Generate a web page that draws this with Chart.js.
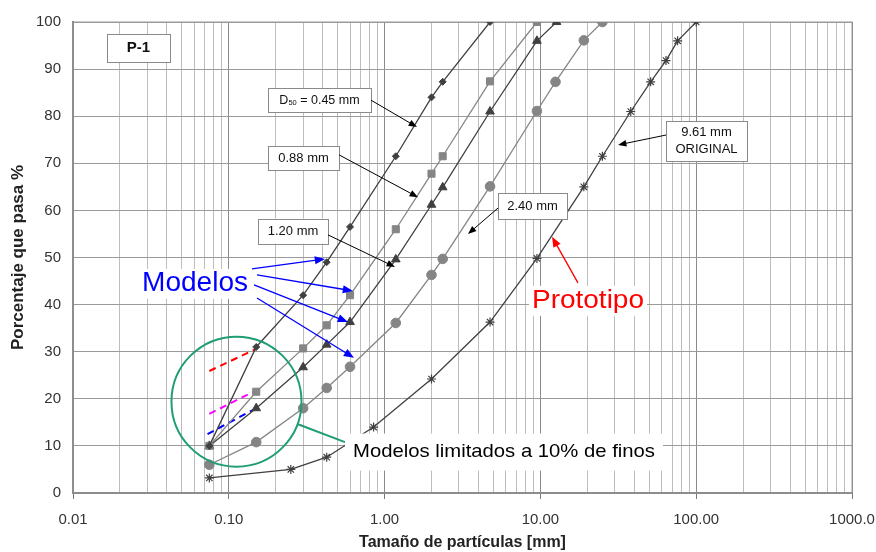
<!DOCTYPE html>
<html>
<head>
<meta charset="utf-8">
<script src="https://cdn.jsdelivr.net/npm/chart.js@4.4.1/dist/chart.umd.min.js"></script>
<style>
  html, body { margin: 0; padding: 0; background: #fff; }
  #wrap { width: 876px; height: 552px; }
</style>
</head>
<body>
<div id="wrap"><canvas id="granChart" width="876" height="552"></canvas></div>
<script>
// curvas granulometricas (x = tamano mm, y = % que pasa)
const d045X = [0.075, 0.15, 0.3, 0.425, 0.6, 1.18, 2.0, 2.36, 4.75];
const d045Y = [10, 31, 42, 49, 56.5, 71.5, 84, 87.3, 100];
const d088X = [0.075, 0.15, 0.3, 0.425, 0.6, 1.18, 2.0, 2.36, 4.75, 9.5];
const d088Y = [10, 21.5, 30.7, 35.6, 42, 56, 67.8, 71.5, 87.4, 100];
const d120X = [0.075, 0.15, 0.3, 0.425, 0.6, 1.18, 2.0, 2.36, 4.75, 9.5, 12.7];
const d120Y = [10, 18, 26.7, 31.5, 36.3, 49.6, 61.2, 64.9, 81, 96, 100];
const d240X = [0.075, 0.15, 0.3, 0.425, 0.6, 1.18, 2.0, 2.36, 4.75, 9.5, 12.5, 19, 25];
const d240Y = [6, 10.8, 18, 22.3, 26.8, 36.1, 46.3, 49.7, 65.1, 81.1, 87.3, 96.1, 100];
const origX = [0.075, 0.25, 0.425, 0.85, 2.0, 4.75, 9.5, 19, 25, 38, 51, 64, 76, 100];
const origY = [3.2, 5, 7.6, 14, 24.2, 36.3, 49.8, 65, 71.5, 81, 87.3, 91.8, 96, 100];

// tramos originales sin limitar finos (discontinuos)
const redDashX = [0.075, 0.15];
const redDashY = [25.9, 30.6];
const magDashX = [0.075, 0.15];
const magDashY = [16.8, 21.8];
const blueDashX = [0.073, 0.15];
const blueDashY = [12.5, 18];

const decadeLabels = ['0.01', '0.10', '1.00', '10.00', '100.00', '1000.0'];

function pts(xs, ys) {
  return xs.map((x, i) => ({ x: x, y: ys[i] }));
}

function isDecade(v) {
  const l = Math.log10(v);
  return Math.abs(l - Math.round(l)) < 1e-6;
}

const dark = '#404040';
const grey = '#858585';
const fam = 'px "Liberation Sans", Arial, sans-serif';

// anotaciones (coordenadas en unidades de datos)
const boxes = [
  { x: 0.0263, y: 94.5, w: 63, h: 28, lines: ['P-1'], bold: true, size: 15 },
  { x: 0.382, y: 83.4, w: 103, h: 24, lines: ['D50'], d50: true, size: 12.5 },
  { x: 0.3017, y: 71.1, w: 71, h: 24, lines: ['0.88 mm'], size: 13 },
  { x: 0.2583, y: 55.6, w: 70, h: 25, lines: ['1.20 mm'], size: 13 },
  { x: 116.4, y: 74.7, w: 81, h: 40, lines: ['9.61 mm', 'ORIGINAL'], size: 13 },
  { x: 8.9, y: 60.9, w: 69, h: 26, lines: ['2.40 mm'], size: 13 }
];
const blackArrows = [
  [0.818, 83.4, 1.614, 77.7],
  [0.5096, 71.8, 1.638, 62.8],
  [0.4333, 54.8, 1.166, 48.0],
  [64.0, 76.0, 31.5, 73.9],
  [5.345, 60.5, 3.43, 55.0]
];
const blueArrows = [
  [0.1409, 47.6, 0.4146, 49.7],
  [0.1517, 46.3, 0.6269, 42.9],
  [0.1451, 44.2, 0.582, 36.3],
  [0.1517, 41.4, 0.636, 28.7]
];

function arrow(ctx, x1, y1, x2, y2, color, width, head) {
  const a = Math.atan2(y2 - y1, x2 - x1);
  ctx.save();
  ctx.strokeStyle = color;
  ctx.fillStyle = color;
  ctx.lineWidth = width;
  ctx.beginPath();
  ctx.moveTo(x1, y1);
  ctx.lineTo(x2 - Math.cos(a) * head * 0.8, y2 - Math.sin(a) * head * 0.8);
  ctx.stroke();
  ctx.beginPath();
  ctx.moveTo(x2, y2);
  ctx.lineTo(x2 - head * Math.cos(a - 0.38), y2 - head * Math.sin(a - 0.38));
  ctx.lineTo(x2 - head * Math.cos(a + 0.38), y2 - head * Math.sin(a + 0.38));
  ctx.closePath();
  ctx.fill();
  ctx.restore();
}

// texto ensanchado para igualar el ancho del original
function wideText(ctx, text, cx, cy, size, width, color) {
  ctx.save();
  ctx.font = size + fam;
  const w = ctx.measureText(text).width;
  ctx.translate(cx, cy);
  ctx.scale(width / w, 1);
  ctx.fillStyle = color;
  ctx.textAlign = 'center';
  ctx.textBaseline = 'middle';
  ctx.fillText(text, 0, 0);
  ctx.restore();
}

const annotPlugin = {
  id: 'annot',
  beforeDatasetsDraw(chart) {
    const { ctx, chartArea: ca } = chart;
    ctx.save();
    ctx.strokeStyle = '#999';
    ctx.lineWidth = 1;
    ctx.strokeRect(ca.left, ca.top, ca.right - ca.left, ca.bottom - ca.top);
    ctx.restore();
  },
  afterDatasetsDraw(chart) {
    const { ctx } = chart;
    const sx = chart.scales.x, sy = chart.scales.y;
    const X = v => sx.getPixelForValue(v);
    const Y = v => sy.getPixelForValue(v);
    ctx.save();
    ctx.textBaseline = 'middle';
    ctx.textAlign = 'center';

    // cajas de texto
    boxes.forEach(b => {
      const cx = X(b.x), cy = Y(b.y);
      ctx.fillStyle = '#fff';
      ctx.fillRect(cx - b.w / 2, cy - b.h / 2, b.w, b.h);
      ctx.strokeStyle = '#8a8a8a';
      ctx.lineWidth = 1;
      ctx.strokeRect(Math.round(cx - b.w / 2) + 0.5, Math.round(cy - b.h / 2) + 0.5, b.w, b.h);
      ctx.fillStyle = '#111';
      if (b.d50) {
        const main = ' = 0.45 mm';
        ctx.font = b.size + fam;
        const wD = ctx.measureText('D').width;
        const wM = ctx.measureText(main).width;
        ctx.font = '7.5' + fam;
        const wS = ctx.measureText('50').width;
        const x0 = cx - (wD + wS + wM) / 2;
        ctx.textAlign = 'left';
        ctx.font = b.size + fam;
        ctx.fillText('D', x0, cy);
        ctx.font = '7.5' + fam;
        ctx.fillText('50', x0 + wD, cy + 3);
        ctx.font = b.size + fam;
        ctx.fillText(main, x0 + wD + wS, cy);
        ctx.textAlign = 'center';
      } else {
        ctx.font = (b.bold ? 'bold ' : '') + b.size + fam;
        const lh = b.size + 4;
        b.lines.forEach((t, i) => {
          ctx.fillText(t, cx, cy + (i - (b.lines.length - 1) / 2) * lh);
        });
      }
    });

    blackArrows.forEach(a => arrow(ctx, X(a[0]), Y(a[1]), X(a[2]), Y(a[3]), '#000', 1, 9));

    // Modelos
    ctx.fillStyle = '#fff';
    ctx.fillRect(X(0.0607) - 56, Y(44.4) - 15, 112, 30);
    wideText(ctx, 'Modelos', X(0.0607), Y(44.4), 27, 106, '#0000ff');
    blueArrows.forEach(a => arrow(ctx, X(a[0]), Y(a[1]), X(a[2]), Y(a[3]), '#0000ff', 1.3, 11));

    // Prototipo
    ctx.fillStyle = '#fff';
    ctx.fillRect(X(20.2) - 59, Y(40.8) - 15, 118, 30);
    wideText(ctx, 'Prototipo', X(20.2), Y(40.8), 26, 112, '#ff0000');
    arrow(ctx, X(17.43), Y(44.6), X(11.87), Y(54.4), '#ff0000', 1.3, 11);

    // circulo verde + nota
    ctx.strokeStyle = '#1f9d73';
    ctx.lineWidth = 2;
    ctx.beginPath();
    ctx.arc(X(0.112), Y(19.4), 65, 0, Math.PI * 2);
    ctx.stroke();
    ctx.beginPath();
    ctx.moveTo(X(0.278), Y(14.6));
    ctx.lineTo(X(0.5568), Y(10.8));
    ctx.stroke();

    ctx.fillStyle = '#fff';
    ctx.fillRect(X(5.84) - 159, Y(8.8) - 18, 318, 37);
    wideText(ctx, 'Modelos limitados a 10% de finos', X(5.84), Y(8.8), 18.5, 302, '#000');
    ctx.restore();
  }
};

function curve(xs, ys, color, style, radius, fill) {
  return {
    data: pts(xs, ys),
    borderColor: color,
    borderWidth: 1.3,
    pointStyle: style,
    pointRadius: radius,
    pointBackgroundColor: fill,
    pointBorderColor: fill,
    pointBorderWidth: 1,
    tension: 0,
    fill: false
  };
}

function dashed(xs, ys, color) {
  return {
    data: pts(xs, ys),
    borderColor: color,
    borderWidth: 2,
    borderDash: [7, 5],
    pointRadius: 0,
    fill: false
  };
}

const origSet = curve(origX, origY, dark, 'star', 4.5, dark);
origSet.pointBorderWidth = 1.2;

let granChart = new Chart(document.getElementById('granChart').getContext('2d'), {
  type: 'line',
  data: {
    datasets: [
      curve(d045X, d045Y, dark, 'rectRot', 3.5, dark),
      curve(d088X, d088Y, grey, 'rect', 5, grey),
      curve(d120X, d120Y, dark, 'triangle', 5, dark),
      curve(d240X, d240Y, grey, 'circle', 4.8, grey),
      origSet,
      dashed(redDashX, redDashY, '#ff0000'),
      dashed(magDashX, magDashY, '#ff00ff'),
      dashed(blueDashX, blueDashY, '#0000ff')
    ]
  },
  options: {
    responsive: false,
    animation: false,
    layout: { padding: { top: 22, right: 24, left: 0, bottom: 0 } },
    plugins: { legend: { display: false }, tooltip: { enabled: false } },
    scales: {
      x: {
        type: 'logarithmic',
        min: 0.01,
        max: 1000,
        afterBuildTicks(scale) {
          const t = [];
          for (let e = -2; e <= 2; e++) {
            for (let m = 1; m <= 9; m++) t.push({ value: m * Math.pow(10, e) });
          }
          t.push({ value: 1000 });
          scale.ticks = t;
        },
        afterFit(scale) {
          scale.height = 59;
          scale.paddingLeft = 0;
          scale.paddingRight = 0;
        },
        ticks: {
          autoSkip: false,
          maxRotation: 0,
          padding: 12,
          color: '#333',
          font: { family: '"Liberation Sans", Arial, sans-serif', size: 15 },
          callback(v) {
            if (!isDecade(v)) return '';
            const i = Math.round(Math.log10(v)) + 2;
            return decadeLabels[i];
          }
        },
        grid: {
          color: c => (c.tick && isDecade(c.tick.value)) ? '#8a8a8a' : '#bdbdbd',
          tickColor: c => (c.tick && isDecade(c.tick.value)) ? '#777' : 'rgba(0,0,0,0)',
          tickLength: 6,
          lineWidth: 1
        },
        border: { color: '#808080', width: 2 },
        title: {
          display: true,
          text: 'Tamaño de partículas [mm]',
          color: '#222',
          font: { family: '"Liberation Sans", Arial, sans-serif', size: 16, weight: 'bold' },
          padding: { top: 0, bottom: 0 }
        }
      },
      y: {
        min: 0,
        max: 100,
        afterFit(scale) { scale.width = 73; },
        ticks: {
          stepSize: 10,
          padding: 12,
          color: '#333',
          font: { family: '"Liberation Sans", Arial, sans-serif', size: 15 }
        },
        grid: { color: '#9a9a9a', tickLength: 0, lineWidth: 1 },
        border: { color: '#808080', width: 2 },
        title: {
          display: true,
          text: 'Porcentaje que pasa %',
          color: '#222',
          font: { family: '"Liberation Sans", Arial, sans-serif', size: 17, weight: 'bold' },
          padding: { top: 8, bottom: 4 }
        }
      }
    }
  },
  plugins: [annotPlugin]
});
</script>
</body>
</html>
